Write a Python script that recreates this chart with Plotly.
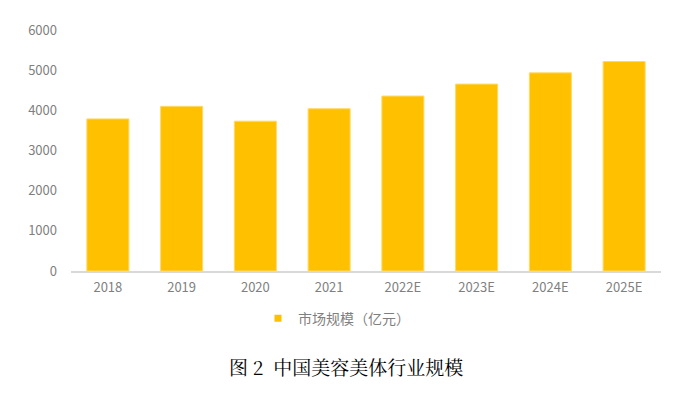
import plotly.graph_objects as go

categories = ["2018", "2019", "2020", "2021", "2022E", "2023E", "2024E", "2025E"]
values = [3787, 4100, 3730, 4040, 4355, 4653, 4933, 5215]
series_name = "市场规模（亿元）"
y_ticks = [0, 1000, 2000, 3000, 4000, 5000, 6000]
title_text = "图 2  中国美容美体行业规模"

# page body has an 8px margin, so figure is offset by 8px
OFF = 8
W, H = 686 - OFF, 393 - OFF

fig = go.Figure()
fig.add_trace(go.Bar(
    x=categories, y=values, name=series_name,
    marker=dict(color="#FFC000", line=dict(color="#FFD966", width=1)),
    showlegend=False,
))
# legend entry with a small square symbol
fig.add_trace(go.Scatter(
    x=[None], y=[None], mode="markers", name=series_name,
    marker=dict(symbol="square", size=7, color="#FFC000"),
    showlegend=True,
))

font_family = "Noto Sans CJK SC, Liberation Sans, sans-serif"
fig.update_layout(
    width=W, height=H,
    margin=dict(l=71 - OFF, r=25, t=28 - OFF, b=122),
    paper_bgcolor="white", plot_bgcolor="white",
    bargap=0.43,
    font=dict(family=font_family, color="#7f7f7f", size=13),
    xaxis=dict(showgrid=False, showline=True, linecolor="#d9d9d9", linewidth=1.5,
               ticks="", ticklabelstandoff=4, tickfont=dict(size=13, color="#7f7f7f")),
    yaxis=dict(range=[0, 6000], tickvals=y_ticks, showgrid=False, zeroline=False,
               showline=False, ticks="", ticklabelstandoff=13,
               tickfont=dict(size=13, color="#7f7f7f")),
    legend=dict(orientation="h", x=0.45, xanchor="center", y=-0.198, yanchor="middle",
                font=dict(size=14, color="#7f7f7f"), itemwidth=30),
    annotations=[dict(text=title_text, xref="paper", yref="paper", x=0.466, y=-0.395,
                      xanchor="center", yanchor="middle", showarrow=False,
                      font=dict(size=19, color="#000000",
                                family="Noto Serif CJK SC, Noto Sans CJK SC, serif"))],
)

fig.write_html("out.html")
